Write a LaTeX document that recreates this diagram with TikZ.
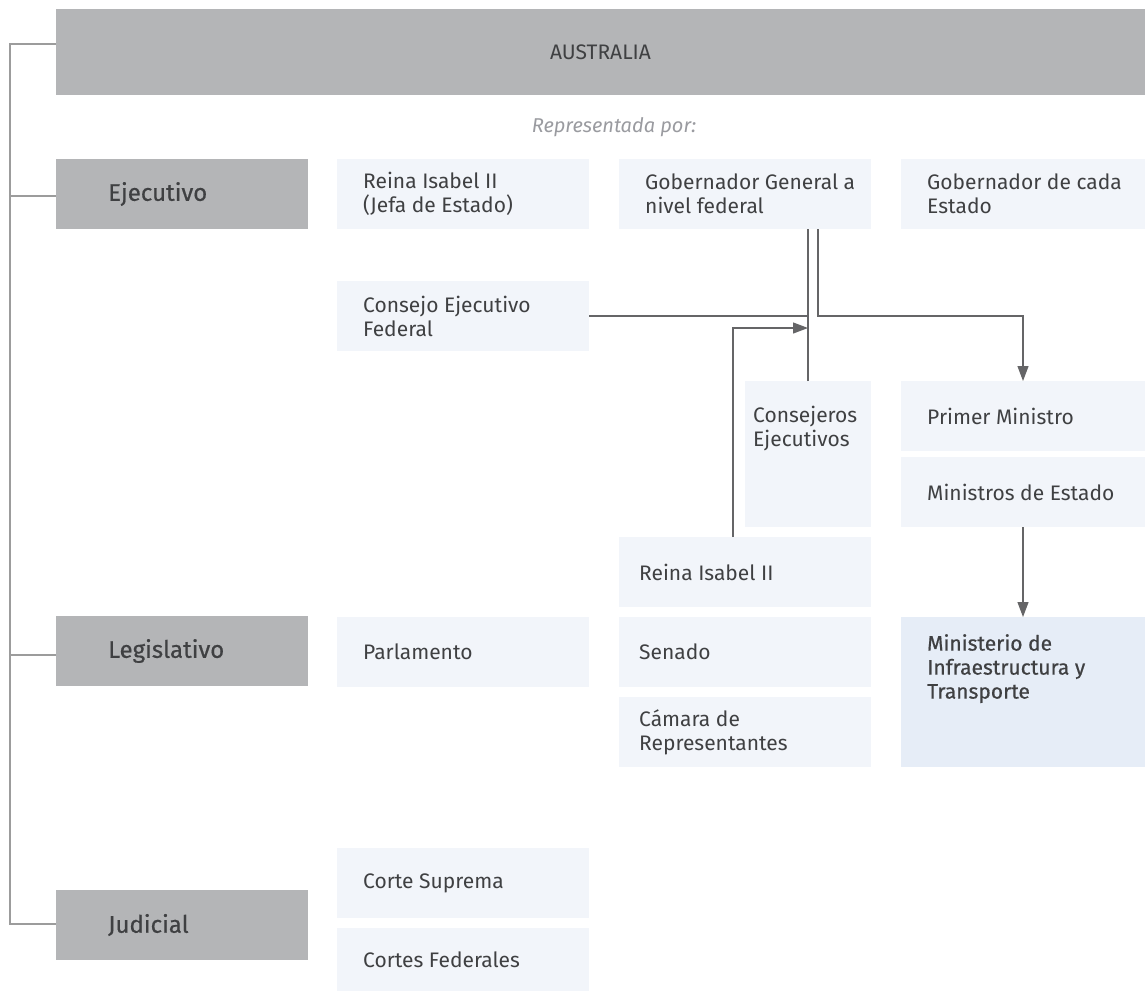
\documentclass[tikz,border=0pt]{standalone}
\usepackage{fontspec}
\setmainfont{Fira Sans}
\newfontfamily\headfont[FakeBold=0.6]{Fira Sans}
\usetikzlibrary{arrows.meta}

\definecolor{hdrgray}{HTML}{B4B5B7}
\definecolor{cellblue}{HTML}{F2F5FA}
\definecolor{focusblue}{HTML}{E6EDF7}
\definecolor{inkgray}{HTML}{3F4042}
\definecolor{wiregray}{HTML}{656567}
\definecolor{railgray}{HTML}{9C9C9C}
\definecolor{notegray}{HTML}{9A9BA0}

\tikzset{
  panel/.style={fill=hdrgray, anchor=north west, inner sep=0pt, outer sep=0pt},
  cell/.style={fill=cellblue, anchor=north west, inner sep=0pt, outer sep=0pt},
  focus/.style={cell, fill=focusblue},
  headtxt/.style={anchor=west, inner sep=0pt, text=inkgray, font=\headfont\fontsize{24}{28}\selectfont},
  celltxt/.style={anchor=west, align=left, inner sep=0pt, text=inkgray, font=\fontsize{21}{24}\selectfont},
  celltop/.style={celltxt, anchor=north west},
  wire/.style={draw=wiregray, line width=1.2pt},
  flow/.style={wire, -{Triangle[width=11pt,length=15pt]}},
  rail/.style={draw=railgray, line width=1.3pt},
}

\begin{document}
\begin{tikzpicture}[x=1pt, y=-1pt]
  \fill[white] (0,0) rectangle (1145,991);
  \useasboundingbox (0,0) rectangle (1145,991);

  % title bar
  \node[panel, minimum width=1089, minimum height=86, text=inkgray,
        font=\fontsize{21}{24}\selectfont] (aus) at (56,9) {AUSTRALIA};
  \node[text=notegray, inner sep=0pt, font=\itshape\fontsize{20}{24}\selectfont]
        (rep) at (614,127) {Representada por:};

  % branches of government
  \node[panel, minimum width=252, minimum height=70] (eje) at (56,159) {};
  \node[headtxt] (eje-t) at ([xshift=52pt]eje.west) {Ejecutivo};
  \node[panel, minimum width=252, minimum height=70] (leg) at (56,616) {};
  \node[headtxt] (leg-t) at ([xshift=52pt]leg.west) {Legislativo};
  \node[panel, minimum width=252, minimum height=70] (jud) at (56,890) {};
  \node[headtxt] (jud-t) at ([xshift=52pt]jud.west) {Judicial};

  % executive
  \node[cell, minimum width=252, minimum height=70] (rei) at (337,159) {};
  \node[celltxt] (rei-t) at ([xshift=26pt]rei.west) {Reina Isabel II\\(Jefa de Estado)};
  \node[cell, minimum width=252, minimum height=70] (gg) at (619,159) {};
  \node[celltxt] (gg-t) at ([xshift=26pt]gg.west) {Gobernador General a\\nivel federal};
  \node[cell, minimum width=244, minimum height=70] (gce) at (901,159) {};
  \node[celltxt] (gce-t) at ([xshift=26pt]gce.west) {Gobernador de cada\\Estado};
  \node[cell, minimum width=252, minimum height=70] (cef) at (337,281) {};
  \node[celltxt] (cef-t) at ([xshift=26pt]cef.west) {Consejo Ejecutivo\\Federal};
  \node[cell, minimum width=126, minimum height=146] (cons) at (745,381) {};
  \node[celltop] (cons-t) at ([xshift=8pt,yshift=-25pt]cons.north west) {Consejeros\\Ejecutivos};
  \node[cell, minimum width=244, minimum height=70] (pm) at (901,381) {};
  \node[celltxt] (pm-t) at ([xshift=26pt]pm.west) {Primer Ministro};
  \node[cell, minimum width=244, minimum height=70] (ms) at (901,457) {};
  \node[celltxt] (ms-t) at ([xshift=26pt]ms.west) {Ministros de Estado};
  \node[cell, minimum width=252, minimum height=70] (r2) at (619,537) {};
  \node[celltxt] (r2-t) at ([xshift=20pt]r2.west) {Reina Isabel II};

  % legislative
  \node[cell, minimum width=252, minimum height=70] (par) at (337,617) {};
  \node[celltxt] (par-t) at ([xshift=26pt]par.west) {Parlamento};
  \node[cell, minimum width=252, minimum height=70] (sen) at (619,617) {};
  \node[celltxt] (sen-t) at ([xshift=20pt]sen.west) {Senado};
  \node[cell, minimum width=252, minimum height=70] (cam) at (619,697) {};
  \node[celltxt] (cam-t) at ([xshift=20pt]cam.west) {Cámara de\\Representantes};
  \node[focus, minimum width=244, minimum height=150] (mit) at (901,617) {};
  \node[celltop, font=\headfont\fontsize{21}{24}\selectfont] (mit-t)
        at ([xshift=26pt,yshift=-17pt]mit.north west) {Ministerio de\\Infraestructura y\\Transporte};

  % judicial
  \node[cell, minimum width=252, minimum height=70] (cs) at (337,848) {};
  \node[celltxt] (cs-t) at ([xshift=26pt]cs.west) {Corte Suprema};
  \node[cell, minimum width=252, minimum height=63] (cf) at (337,928) {};
  \node[celltxt] (cf-t) at ([xshift=26pt]cf.west) {Cortes Federales};

  % connector end points
  \coordinate (gg-r) at (818,229);
  \coordinate (tap) at (808,328);
  \coordinate (r2-l) at (733,537);

  % executive connectors
  \draw[wire] (cons.north) -- (cons.north |- gg.south);
  \draw[wire] (cef.east) -- (cef.east -| cons.north);
  \draw[flow] (gg-r) -- (gg-r |- cef.east) -| (pm.north);
  \draw[flow] (r2-l) |- (tap);
  \draw[flow] (ms.south) -- (mit.north);

  % left bracket
  \draw[rail] ([yshift=8pt]aus.west) -- ++(-46,0) |- ([yshift=1pt]jud.west);
  \draw[rail] ([yshift=-2pt]eje.west) -- ++(-46,0);
  \draw[rail] ([yshift=-4pt]leg.west) -- ++(-46,0);
\end{tikzpicture}
\end{document}
